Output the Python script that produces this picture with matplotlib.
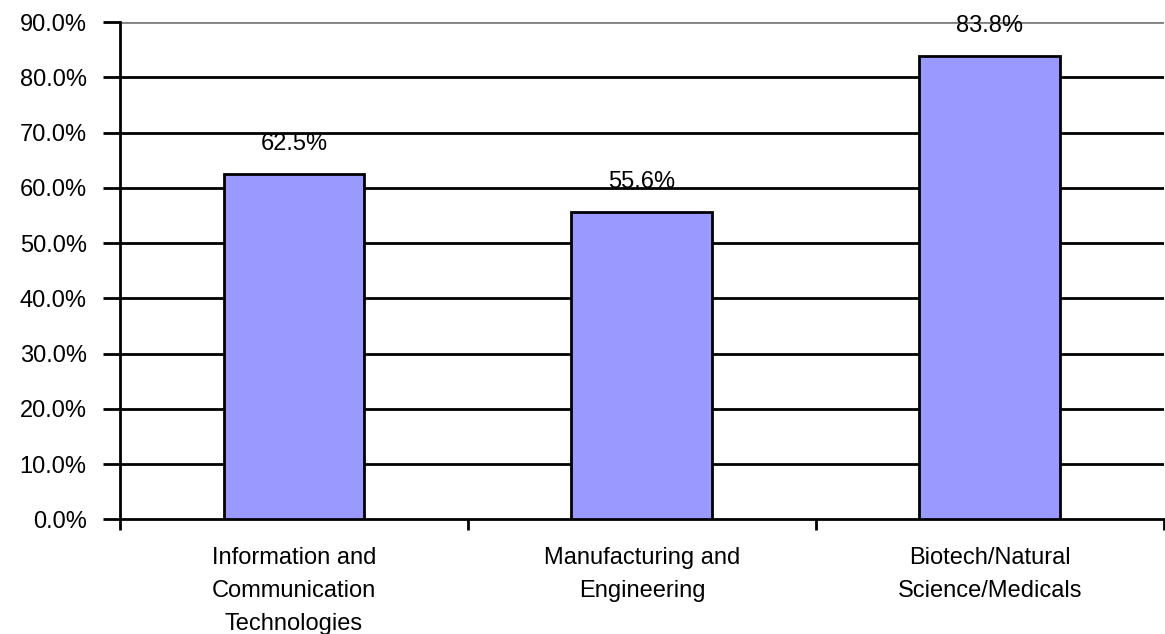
import matplotlib.pyplot as plt
from matplotlib.ticker import FuncFormatter, MultipleLocator

categories = ["Information and\nCommunication\nTechnologies",
              "Manufacturing and\nEngineering",
              "Biotech/Natural\nScience/Medicals"]
values = [62.5, 55.6, 83.8]
value_labels = ["62.5%", "55.6%", "83.8%"]

plt.rcParams['font.family'] = ['Liberation Sans', 'DejaVu Sans']

fig = plt.figure(figsize=(11.65, 6.34), dpi=100)
ax = fig.add_axes([0.103, 0.181, 0.896, 0.784])

x = range(len(categories))
bars = ax.bar(x, values, width=0.405, color='#9999FF', edgecolor='black',
              linewidth=2, zorder=3)

for b, lab in zip(bars, value_labels):
    ax.annotate(lab, (b.get_x() + b.get_width() / 2, b.get_height()),
                xytext=(0, 14), textcoords='offset points',
                ha='center', va='bottom', fontsize=17, zorder=4)

ax.set_xlim(-0.5, len(categories) - 0.5)
ax.set_ylim(0, 90)
ax.yaxis.set_major_locator(MultipleLocator(10))
ax.yaxis.set_major_formatter(FuncFormatter(lambda v, p: f"{v:.1f}%"))

# horizontal grid lines, the top one lighter
for v in range(10, 90, 10):
    ax.axhline(v, color='black', linewidth=2, zorder=1)
ax.axhline(90, color='#808080', linewidth=2, zorder=1)

for s in ['top', 'right']:
    ax.spines[s].set_visible(False)
ax.spines['left'].set_linewidth(2)
ax.spines['bottom'].set_linewidth(2)

ax.set_xticks(list(x))
ax.set_xticklabels(categories, fontsize=17, linespacing=1.65)
ax.tick_params(axis='x', which='major', length=0, pad=20)
ax.set_xticks([-0.5, 0.5, 1.5, 2.5], minor=True)
ax.tick_params(axis='x', which='minor', length=8, width=2, direction='out')
ax.tick_params(axis='y', length=12, width=2, pad=12, labelsize=17)

fig.savefig('out.png', dpi=100)
